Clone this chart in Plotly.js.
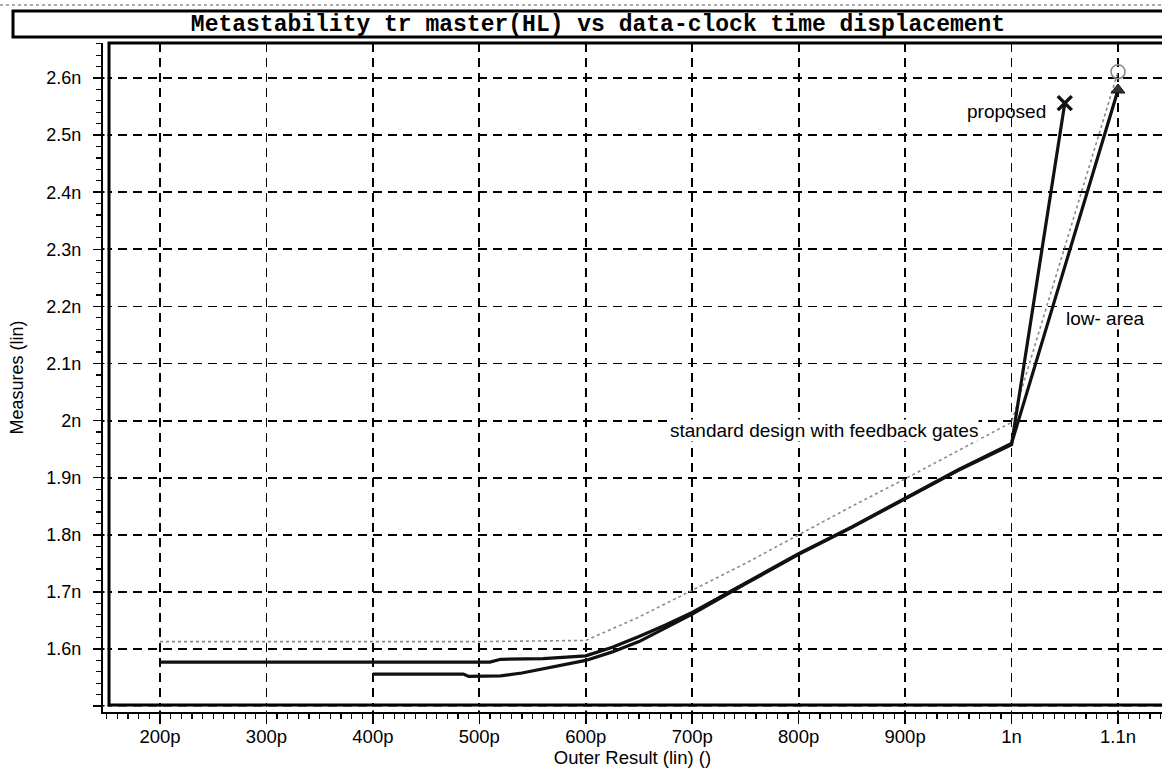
<!DOCTYPE html>
<html>
<head>
<meta charset="utf-8">
<script src="https://cdn.plot.ly/plotly-3.0.1.min.js"></script>
<style>html,body{margin:0;padding:0;background:#fff;}#chart{width:1162px;height:771px;}</style>
</head>
<body>
<div id="chart"></div>
<script>
// ---- data (x in picoseconds, y in nanoseconds) ----
const stdX  = [200, 300, 400, 500, 600, 650, 700, 750, 800, 850, 900, 950, 1000, 1100];
const stdY  = [1.613, 1.613, 1.613, 1.613, 1.615, 1.656, 1.703, 1.750, 1.800, 1.850, 1.898, 1.947, 1.997, 2.611];

const lowX  = [200, 300, 400, 500, 510, 520, 560, 600, 625, 650, 675, 700, 750, 800, 850, 900, 950, 1000, 1100];
const lowY  = [1.577, 1.577, 1.577, 1.577, 1.577, 1.582, 1.583, 1.588, 1.603, 1.622, 1.642, 1.664, 1.715, 1.767, 1.814, 1.864, 1.914, 1.960, 2.579];

const propX = [400, 450, 485, 490, 520, 540, 560, 580, 600, 625, 650, 675, 700, 750, 800, 850, 900, 950, 1000, 1050];
const propY = [1.556, 1.556, 1.556, 1.552, 1.553, 1.558, 1.565, 1.572, 1.580, 1.595, 1.613, 1.637, 1.661, 1.714, 1.766, 1.813, 1.863, 1.913, 1.958, 2.556];

const xTickVals = [200, 300, 400, 500, 600, 700, 800, 900, 1000, 1100];
const xTickText = ['200p', '300p', '400p', '500p', '600p', '700p', '800p', '900p', '1n', '1.1n'];
const yTickVals = [1.5, 1.6, 1.7, 1.8, 1.9, 2.0, 2.1, 2.2, 2.3, 2.4, 2.5, 2.6];
const yTickText = ['', '1.6n', '1.7n', '1.8n', '1.9n', '2n', '2.1n', '2.2n', '2.3n', '2.4n', '2.5n', '2.6n'];

const labels = {
  std: 'standard design with feedback gates',
  low: 'low- area',
  prop: 'proposed'
};
const titleText = 'Metastability tr master(HL) vs data-clock time displacement';

// ---- geometry helpers (pixel -> paper) ----
const W = 1162, H = 771;
const L = 103, R = 0, T = 43, B = 59;
const PW = W - L - R, PH = H - T - B;
const px = X => (X - L) / PW;
const py = Y => (H - B - Y) / PH;

const last = a => a[a.length - 1];

const traces = [
  {x: stdX, y: stdY, mode: 'lines', line: {color: '#8a8a8a', width: 1.6, dash: 'dot'}, hoverinfo: 'skip'},
  {x: lowX, y: lowY, mode: 'lines', line: {color: '#111', width: 3.2}, hoverinfo: 'skip'},
  {x: propX, y: propY, mode: 'lines', line: {color: '#111', width: 3.2}, hoverinfo: 'skip'},
  {x: [last(stdX)], y: [last(stdY)], mode: 'markers',
   marker: {symbol: 'circle-open', size: 14, color: '#8a8a8a', line: {width: 1.6, color: '#8a8a8a'}}},
  {x: [last(lowX)], y: [last(lowY)], mode: 'markers',
   marker: {symbol: 'triangle-up', size: 12, color: '#333', line: {width: 1, color: '#111'}}},
  {x: [last(propX)], y: [last(propY)], mode: 'markers',
   marker: {symbol: 'x-thin-open', size: 14, color: '#111', line: {width: 3.5, color: '#111'}}}
];

const gridDash = '9px,6px';
const layout = {
  width: W, height: H,
  margin: {l: L, r: R, t: T, b: B, pad: 0},
  paper_bgcolor: '#fff', plot_bgcolor: '#fff',
  showlegend: false,
  font: {family: 'Liberation Sans, Arial, sans-serif', size: 18, color: '#000'},
  title: {
    text: '<b>' + titleText + '</b>',
    font: {family: 'Liberation Mono, monospace', size: 23, color: '#000'},
    xref: 'container', yref: 'container', x: 598 / W, y: 1 - 23 / H,
    xanchor: 'center', yanchor: 'middle'
  },
  xaxis: {
    range: [146.45, 1141.34],
    tickmode: 'array', tickvals: xTickVals, ticktext: xTickText,
    ticks: 'outside', ticklen: 10, tickwidth: 1.5, tickcolor: '#000',
    tickfont: {size: 18.5},
    ticklabelstandoff: -3,
    minor: {tickmode: 'linear', tick0: 0, dtick: 10, ticks: 'outside', ticklen: 5, tickwidth: 1.2, tickcolor: '#000', showgrid: false},
    showline: true, linecolor: '#000', linewidth: 2,
    showgrid: true, gridcolor: '#000', gridwidth: 1.8, griddash: gridDash,
    zeroline: false,
    title: {text: 'Outer Result (lin) ()', font: {size: 18.5}, standoff: 5}
  },
  yaxis: {
    range: [1.4897, 2.6613],
    tickmode: 'array', tickvals: yTickVals, ticktext: yTickText,
    ticks: 'outside', ticklen: 8, tickwidth: 1.5, tickcolor: '#000',
    tickfont: {size: 18},
    ticklabelstandoff: 8,
    minor: {tickmode: 'linear', tick0: 0, dtick: 0.02, ticks: 'outside', ticklen: 5, tickwidth: 1.2, tickcolor: '#000', showgrid: false},
    showline: true, linecolor: '#000', linewidth: 2,
    showgrid: true, gridcolor: '#000', gridwidth: 1.8, griddash: gridDash,
    zeroline: false,
    title: {text: 'Measures (lin)', font: {size: 18}, standoff: 18}
  },
  shapes: [
    // white gaps between axis lines and inner plot frame
    {type: 'rect', xref: 'paper', yref: 'paper', x0: px(104.5), x1: px(107.6), y0: 0, y1: 1,
     fillcolor: '#fff', line: {width: 0}, layer: 'above'},
    {type: 'rect', xref: 'paper', yref: 'paper', x0: 0, x1: 1, y0: py(710.6), y1: py(706.6),
     fillcolor: '#fff', line: {width: 0}, layer: 'above'},
    // inner plot frame
    {type: 'rect', xref: 'paper', yref: 'paper', x0: px(109), x1: px(1170), y0: py(705), y1: py(43),
     line: {color: '#000', width: 3}, fillcolor: 'rgba(0,0,0,0)', layer: 'above'},
    // title box
    {type: 'rect', xref: 'paper', yref: 'paper', x0: px(13), x1: px(1170), y0: py(37), y1: py(11),
     line: {color: '#000', width: 3}, fillcolor: 'rgba(0,0,0,0)', layer: 'above'},
    // dotted rule above title box
    {type: 'line', xref: 'paper', yref: 'paper', x0: px(0), x1: px(1162), y0: py(5), y1: py(5),
     line: {color: '#555', width: 1, dash: 'dot'}, layer: 'above'}
  ],
  annotations: [
    {x: 823.8, y: 1.9835, xref: 'x', yref: 'y', text: labels.std, showarrow: false, font: {size: 19}, bgcolor: '#fff', borderpad: 0},
    {x: 1088.7, y: 2.1797, xref: 'x', yref: 'y', text: labels.low, showarrow: false, font: {size: 19}, bgcolor: '#fff', borderpad: 0},
    {x: 995.2, y: 2.5405, xref: 'x', yref: 'y', text: labels.prop, showarrow: false, font: {size: 19}, borderpad: 0}
  ]
};

Plotly.newPlot('chart', traces, layout, {staticPlot: true, displayModeBar: false});
</script>
</body>
</html>
